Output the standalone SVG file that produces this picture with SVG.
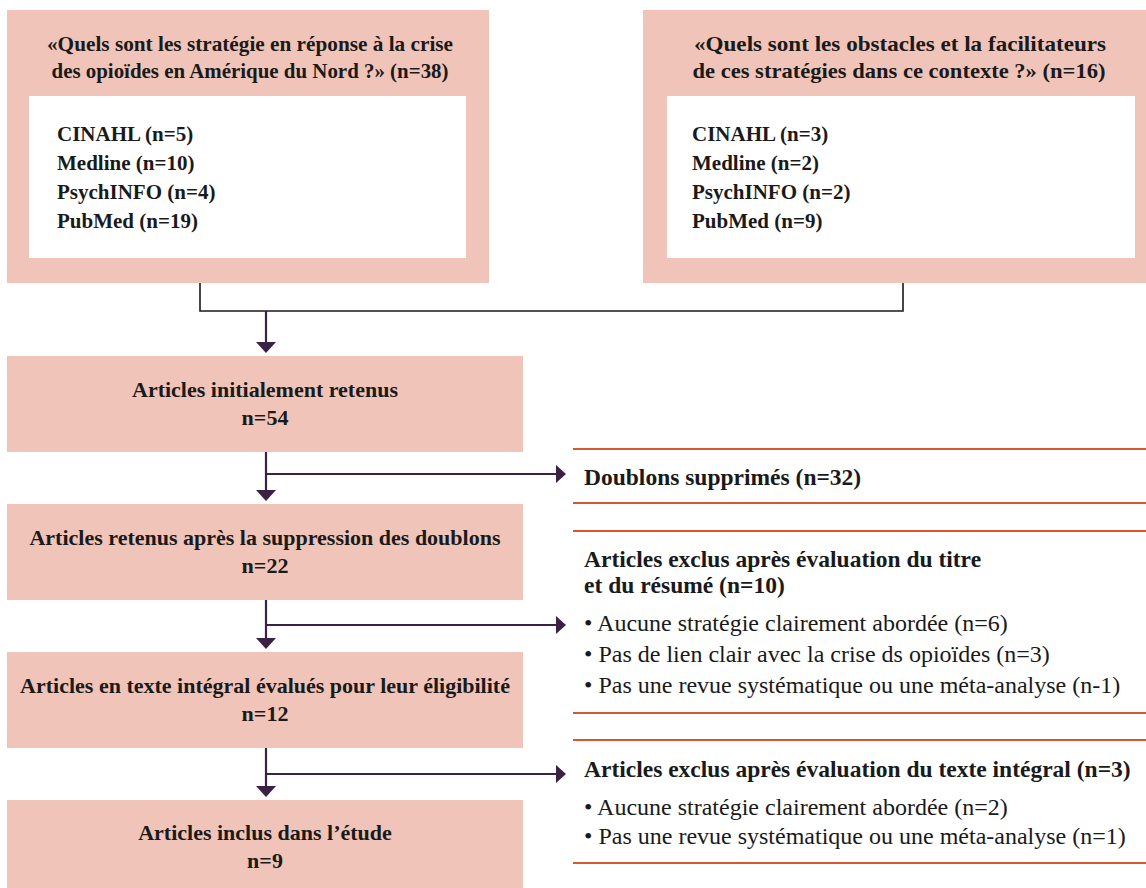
<svg xmlns="http://www.w3.org/2000/svg" width="1146" height="888" viewBox="0 0 1146 888">
<style>
.box{fill:#f0c4b8}
.inner{fill:#ffffff}
text{font-family:'Liberation Serif','DejaVu Serif','Times New Roman',serif;fill:#1a1a1a}
.b{font-weight:bold}
.lbl{font-size:22px;font-weight:bold;text-anchor:middle}
.ttl{font-size:21.5px;font-weight:bold;text-anchor:middle}
.lst{font-size:21px;font-weight:bold}
.rt{font-size:24px}
.rb{font-size:23.5px;font-weight:bold}
.sep{stroke:#d9572b;stroke-width:2;fill:none}
.arr{stroke:#3b2244;stroke-width:2.2;fill:none}
.head{fill:#3b2244}
.merge{stroke:#1a1a1a;stroke-width:1.6;fill:none}
</style>
<rect width="1146" height="888" fill="#ffffff"/>

<g id="q1">
<rect class="box" x="7" y="10" width="482" height="273"/>
<rect class="inner" x="29" y="96" width="437" height="162"/>
<text class="ttl" x="250" y="51" textLength="406" lengthAdjust="spacingAndGlyphs">«Quels sont les stratégie en réponse à la crise</text>
<text class="ttl" x="250" y="78" textLength="397" lengthAdjust="spacingAndGlyphs">des opioïdes en Amérique du Nord ?» (n=38)</text>
<text class="lst" x="57" y="141">CINAHL (n=5)</text>
<text class="lst" x="57" y="170">Medline (n=10)</text>
<text class="lst" x="57" y="199">PsychINFO (n=4)</text>
<text class="lst" x="57" y="228">PubMed (n=19)</text>
</g>

<g id="q2">
<rect class="box" x="643" y="10" width="515" height="273"/>
<rect class="inner" x="667" y="96" width="468" height="162"/>
<text class="ttl" x="900" y="51" textLength="412" lengthAdjust="spacingAndGlyphs">«Quels sont les obstacles et la facilitateurs</text>
<text class="ttl" x="899" y="78" textLength="413" lengthAdjust="spacingAndGlyphs">de ces stratégies dans ce contexte ?» (n=16)</text>
<text class="lst" x="692" y="141">CINAHL (n=3)</text>
<text class="lst" x="692" y="170">Medline (n=2)</text>
<text class="lst" x="692" y="199">PsychINFO (n=2)</text>
<text class="lst" x="692" y="228">PubMed (n=9)</text>
</g>

<g id="n1">
<rect class="box" x="7" y="356" width="516" height="96"/>
<text class="lbl" x="265" y="397">Articles initialement retenus</text>
<text class="lbl" x="265" y="425">n=54</text>
</g>

<g id="n2">
<rect class="box" x="7" y="504" width="516" height="96"/>
<text class="lbl" x="265" y="545">Articles retenus après la suppression des doublons</text>
<text class="lbl" x="265" y="573">n=22</text>
</g>

<g id="n3">
<rect class="box" x="7" y="652" width="516" height="96"/>
<text class="lbl" x="265" y="693">Articles en texte intégral évalués pour leur éligibilité</text>
<text class="lbl" x="265" y="721">n=12</text>
</g>

<g id="n4">
<rect class="box" x="7" y="800" width="516" height="90"/>
<text class="lbl" x="265" y="840">Articles inclus dans l’étude</text>
<text class="lbl" x="265" y="868">n=9</text>
</g>

<g id="x1">
<line class="sep" x1="573" y1="449" x2="1146" y2="449"/>
<line class="sep" x1="573" y1="503" x2="1146" y2="503"/>
<text class="rb" x="584" y="485">Doublons supprimés (n=32)</text>
</g>

<g id="x2">
<line class="sep" x1="573" y1="531" x2="1146" y2="531"/>
<line class="sep" x1="573" y1="713" x2="1146" y2="713"/>
<text class="rb" x="584" y="567">Articles exclus après évaluation du titre</text>
<text class="rb" x="584" y="593">et du résumé (n=10)</text>
<text class="rt" x="584" y="631">• Aucune stratégie clairement abordée (n=6)</text>
<text class="rt" x="584" y="662">• Pas de lien clair avec la crise ds opioïdes (n=3)</text>
<text class="rt" x="584" y="693">• Pas une revue systématique ou une méta-analyse (n-1)</text>
</g>

<g id="x3">
<line class="sep" x1="573" y1="740" x2="1146" y2="740"/>
<line class="sep" x1="573" y1="863" x2="1146" y2="863"/>
<text class="rb" x="584" y="777">Articles exclus après évaluation du texte intégral (n=3)</text>
<text class="rt" x="584" y="815">• Aucune stratégie clairement abordée (n=2)</text>
<text class="rt" x="584" y="844">• Pas une revue systématique ou une méta-analyse (n=1)</text>
</g>

<g id="connectors">
<polyline class="merge" points="200,283 200,311 903,311 903,283"/>
<line class="arr" x1="266" y1="311" x2="266" y2="343"/>
<polygon class="head" points="256,342 276,342 266,353"/>

<line class="arr" x1="266" y1="452" x2="266" y2="491"/>
<polygon class="head" points="256,490 276,490 266,501"/>
<line class="arr" x1="266" y1="474" x2="557" y2="474"/>
<polygon class="head" points="556,465 566,474 556,483"/>

<line class="arr" x1="266" y1="600" x2="266" y2="639"/>
<polygon class="head" points="256,638 276,638 266,649"/>
<line class="arr" x1="266" y1="625" x2="557" y2="625"/>
<polygon class="head" points="556,616 566,625 556,634"/>

<line class="arr" x1="266" y1="748" x2="266" y2="787"/>
<polygon class="head" points="256,786 276,786 266,797"/>
<line class="arr" x1="266" y1="774" x2="557" y2="774"/>
<polygon class="head" points="556,765 566,774 556,783"/>
</g>
</svg>
